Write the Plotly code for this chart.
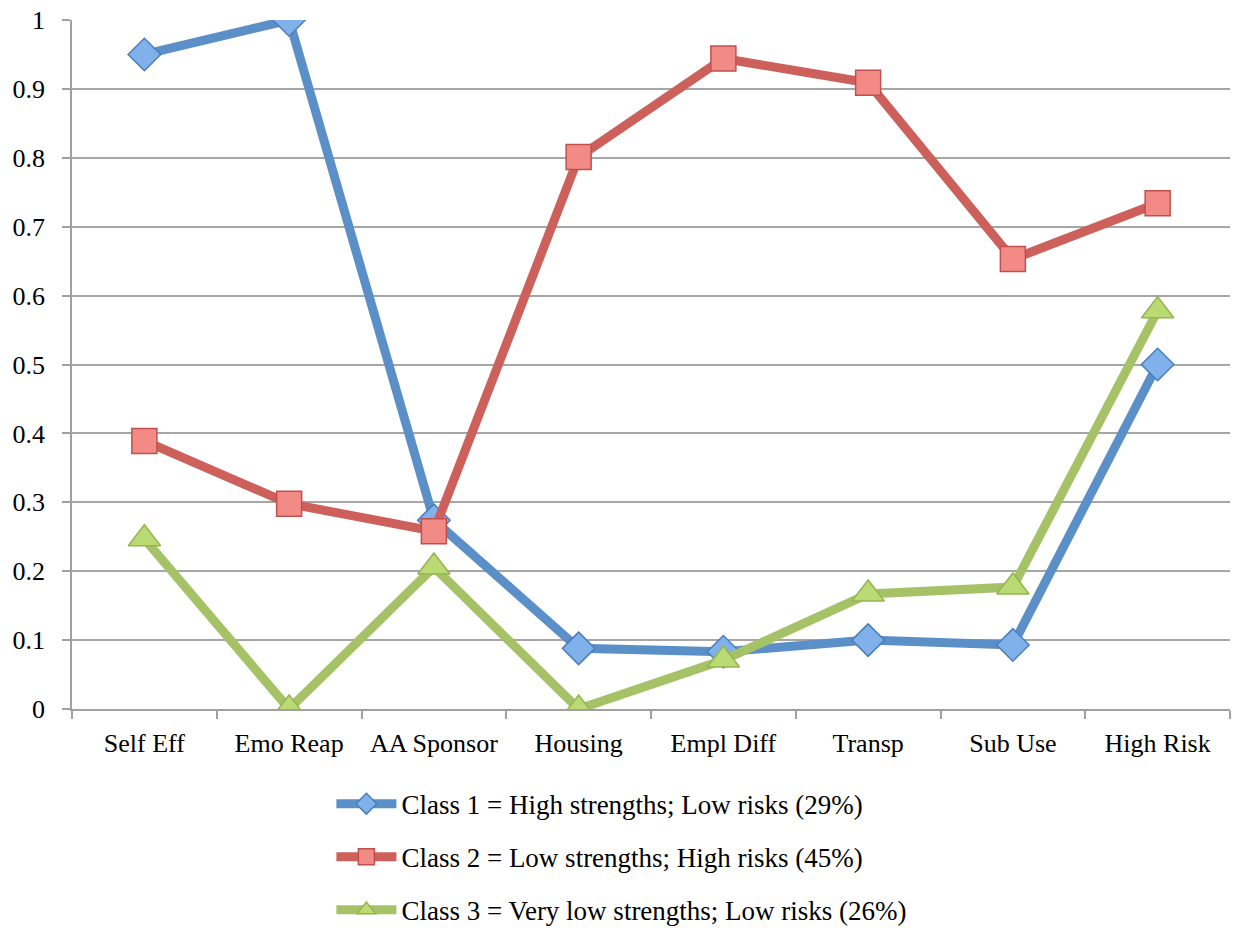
import plotly.graph_objects as go

categories = ["Self Eff", "Emo Reap", "AA Sponsor", "Housing", "Empl Diff", "Transp", "Sub Use", "High Risk"]
class1 = [0.95, 1.0, 0.274, 0.088, 0.083, 0.100, 0.093, 0.50]
class2 = [0.389, 0.298, 0.258, 0.801, 0.944, 0.909, 0.653, 0.734]
class3 = [0.247, 0.0, 0.206, 0.0, 0.071, 0.167, 0.177, 0.578]
names = [
    "Class 1 = High strengths; Low risks (29%)",
    "Class 2 = Low strengths; High risks (45%)",
    "Class 3 = Very low strengths; Low risks (26%)",
]
y_ticks = [0, 0.1, 0.2, 0.3, 0.4, 0.5, 0.6, 0.7, 0.8, 0.9, 1]
y_tick_text = ["0", "0.1", "0.2", "0.3", "0.4", "0.5", "0.6", "0.7", "0.8", "0.9", "1"]

series_styles = [
    dict(line="#5A8FC8", fill="#80B1EA", edge="#4A7EBB", symbol="diamond", size=25),
    dict(line="#CD605B", fill="#F28A86", edge="#C0504D", symbol="square", size=25),
    dict(line="#A6C267", fill="#BADB74", edge="#94B552", symbol="triangle-up", size=28),
]

fig = go.Figure()
for i, (vals, name, st) in enumerate(zip([class1, class2, class3], names, series_styles)):
    fig.add_trace(go.Scatter(
        x=categories, y=vals, name=name, mode="lines+markers",
        legendgroup=f"g{i}",
        line=dict(color=st["line"], width=9),
        marker=dict(symbol=st["symbol"], size=st["size"], color=st["fill"],
                    line=dict(color=st["edge"], width=1.5)),
    ))

font_family = "Liberation Serif, DejaVu Serif, serif"
fig.update_layout(
    width=1238, height=928,
    margin=dict(l=72, r=8, t=20, b=219, autoexpand=False),
    paper_bgcolor="white", plot_bgcolor="white",
    font=dict(family=font_family, size=26, color="black"),
    showlegend=True,
    legend=dict(
        x=0.224, xanchor="left", y=-0.1025, yanchor="top",
        tracegroupgap=15, itemwidth=60,
        font=dict(family=font_family, size=27, color="black"),
        bgcolor="rgba(0,0,0,0)",
    ),
    xaxis=dict(
        type="category", range=[-0.5, 7.5],
        showgrid=False, showline=True, linecolor="#A0A0A0", linewidth=1.5,
        ticks="outside", tickson="boundaries", ticklen=8, tickcolor="#A0A0A0", tickwidth=1.5,
        tickfont=dict(size=26), ticklabelstandoff=10, zeroline=False,
    ),
    yaxis=dict(
        range=[0, 1], tickvals=y_ticks, ticktext=y_tick_text,
        showgrid=True, gridcolor="#A6A6A6", gridwidth=1.5,
        showline=True, linecolor="#A0A0A0", linewidth=1.5,
        ticks="outside", ticklen=8, tickcolor="#A0A0A0", tickwidth=1.5,
        tickfont=dict(size=26), ticklabelstandoff=12, zeroline=False,
    ),
)

fig.write_html("out.html")
